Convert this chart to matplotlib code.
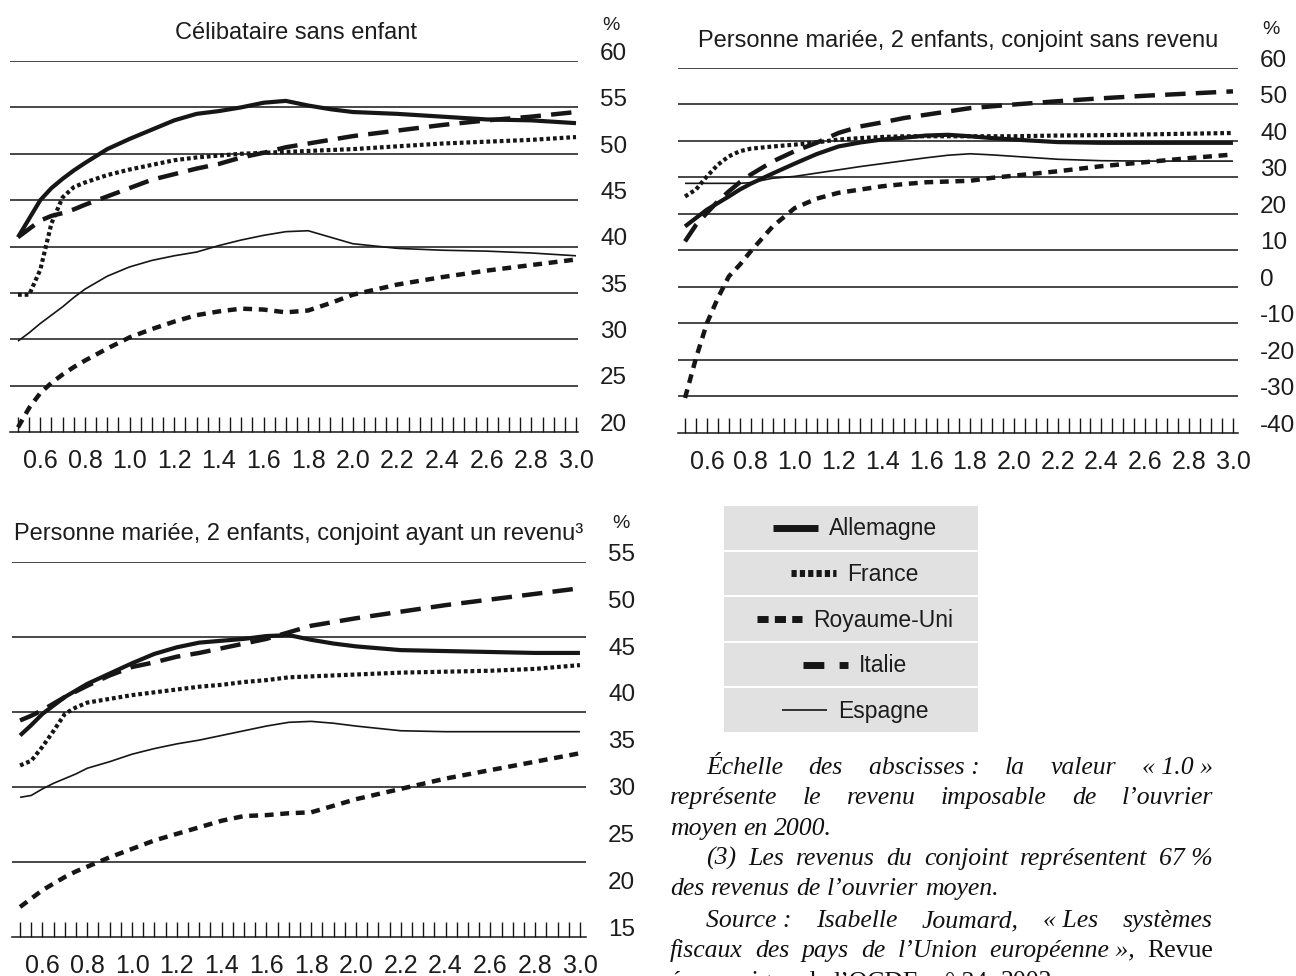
import matplotlib
matplotlib.use("Agg")
import matplotlib.pyplot as plt
import matplotlib.transforms as mtransforms
from matplotlib.patches import Rectangle
import numpy as np

W, H = 1296, 976
plt.rcParams['font.family'] = ['Liberation Sans', 'DejaVu Sans']

# --- data ---
x = [0.50, 0.55, 0.60, 0.65, 0.70, 0.75, 0.80, 0.90, 1.00, 1.10, 1.20, 1.30,
     1.40, 1.50, 1.60, 1.70, 1.80, 1.90, 2.00, 2.20, 2.40, 2.60, 2.80, 3.00]

# Célibataire sans enfant
tl_allemagne = [41.0, 43.0, 45.0, 46.3, 47.3, 48.2, 49.0, 50.5, 51.6, 52.6, 53.6, 54.3,
                54.6, 55.0, 55.5, 55.7, 55.2, 54.8, 54.5, 54.3, 54.0, 53.7, 53.6, 53.3]
tl_france = [34.8, 34.8, 37.5, 42.5, 45.3, 46.4, 46.9, 47.7, 48.3, 48.8, 49.3, 49.6,
             49.8, 50.0, 50.1, 50.2, 50.3, 50.4, 50.5, 50.8, 51.1, 51.3, 51.5, 51.8]
tl_ru = [20.5, 22.6, 24.2, 25.3, 26.2, 27.0, 27.7, 29.0, 30.2, 31.1, 31.9, 32.6,
         33.0, 33.3, 33.2, 32.9, 33.1, 33.9, 34.8, 35.9, 36.7, 37.4, 38.0, 38.6]
tl_italie = [41.0, 41.9, 42.8, 43.3, 43.6, 44.0, 44.5, 45.4, 46.3, 47.2, 47.8, 48.4,
             48.9, 49.6, 50.1, 50.7, 51.1, 51.5, 51.9, 52.5, 53.1, 53.6, 54.0, 54.5]
tl_espagne = [29.8, 30.7, 31.7, 32.6, 33.5, 34.5, 35.4, 36.8, 37.8, 38.5, 39.0, 39.4,
              40.1, 40.7, 41.2, 41.6, 41.7, 41.0, 40.3, 39.8, 39.6, 39.5, 39.3, 39.0]

# Personne mariée, 2 enfants, conjoint sans revenu
tr_allemagne = [16.6, 18.9, 21.2, 23.0, 24.8, 26.7, 28.3, 31.1, 33.8, 36.4, 38.5, 39.6,
                40.4, 40.9, 41.5, 41.7, 41.3, 40.8, 40.4, 39.7, 39.5, 39.5, 39.5, 39.5]
tr_france = [24.8, 26.7, 30.3, 33.5, 35.8, 37.2, 37.9, 38.5, 39.0, 39.6, 40.4, 40.8,
             41.1, 41.3, 41.3, 41.3, 41.3, 41.3, 41.3, 41.5, 41.6, 41.8, 42.0, 42.2]
tr_ru = [-30.4, -19.5, -9.9, -3.0, 2.9, 6.1, 9.8, 16.6, 21.6, 24.2, 25.8, 26.7,
         27.6, 28.2, 28.7, 28.9, 29.1, 29.9, 30.5, 31.7, 33.1, 34.2, 35.3, 36.3]
tr_italie = [12.5, 17.0, 20.3, 23.5, 26.2, 28.7, 30.8, 34.4, 37.2, 39.5, 42.2, 44.0,
             45.1, 46.3, 47.2, 48.1, 49.0, 49.5, 50.0, 50.9, 51.7, 52.4, 53.0, 53.6]
tr_espagne = [28.4, 28.4, 28.4, 28.4, 28.4, 28.4, 28.6, 29.8, 30.3, 31.2, 32.1, 33.0,
              33.8, 34.6, 35.4, 36.1, 36.5, 36.2, 35.8, 35.0, 34.6, 34.5, 34.5, 34.5]

# Personne mariée, 2 enfants, conjoint ayant un revenu
bl_allemagne = [36.5, 37.6, 38.8, 39.7, 40.6, 41.3, 42.0, 43.1, 44.2, 45.2, 45.9, 46.4,
                46.6, 46.8, 47.1, 47.2, 46.7, 46.3, 46.0, 45.6, 45.5, 45.4, 45.3, 45.3]
bl_france = [33.3, 33.8, 35.3, 37.0, 38.8, 39.5, 40.0, 40.4, 40.8, 41.1, 41.4, 41.7,
             41.9, 42.2, 42.4, 42.7, 42.8, 42.9, 43.0, 43.2, 43.3, 43.4, 43.6, 44.0]
bl_ru = [18.2, 19.1, 20.0, 20.7, 21.4, 22.0, 22.5, 23.5, 24.4, 25.3, 26.0, 26.7,
         27.4, 27.9, 28.0, 28.2, 28.3, 29.0, 29.7, 30.8, 31.9, 32.8, 33.7, 34.6]
bl_italie = [38.1, 38.6, 39.2, 39.9, 40.6, 41.2, 41.8, 42.9, 43.8, 44.3, 44.9, 45.3,
             45.8, 46.3, 46.8, 47.5, 48.2, 48.6, 49.0, 49.7, 50.4, 51.0, 51.6, 52.2]
bl_espagne = [29.9, 30.1, 30.8, 31.4, 31.9, 32.4, 33.0, 33.7, 34.5, 35.1, 35.6, 36.0,
              36.5, 37.0, 37.5, 37.9, 38.0, 37.8, 37.5, 37.0, 36.9, 36.9, 36.9, 36.9]

countries = ['Allemagne', 'France', 'Royaume-Uni', 'Italie', 'Espagne']

tl_title = 'Célibataire sans enfant'
tr_title = 'Personne mariée, 2 enfants, conjoint sans revenu'
bl_title = 'Personne mariée, 2 enfants, conjoint ayant un revenu³'

tl_yticks = [20, 25, 30, 35, 40, 45, 50, 55, 60]
tl_grid = [25, 30, 35, 40, 45, 50, 55, 60]
tr_yticks = [-40, -30, -20, -10, 0, 10, 20, 30, 40, 50, 60]
tr_grid = [-30, -20, -10, 0, 10, 20, 30, 40, 50, 60]
bl_yticks = [15, 20, 25, 30, 35, 40, 45, 50, 55]
bl_grid = [23, 31, 39, 47, 55]

xticks_all = np.round(np.arange(0.5, 3.0001, 0.05), 2)
xlabels = ['0.6', '0.8', '1.0', '1.2', '1.4', '1.6', '1.8', '2.0', '2.2', '2.4', '2.6', '2.8', '3.0']

INK = '#161616'
TXT = '#1c1c1c'
styles = {
    'Allemagne':   dict(lw=3.0, ls='-'),
    'France':      dict(lw=3.0, ls=(0, (0.9, 0.7))),
    'Royaume-Uni': dict(lw=3.2, ls=(0, (2.0, 1.5))),
    'Italie':      dict(lw=3.2, ls=(0, (4.6, 2.3))),
    'Espagne':     dict(lw=1.2, ls='-'),
}

fig = plt.figure(figsize=(W / 100, H / 100), dpi=100)


def px_axes(l, t, r, b):
    return fig.add_axes([l / W, 1 - b / H, (r - l) / W, (b - t) / H])


def panel(ax, xlim, ylim, yticks, grid, series):
    ax.set_xlim(xlim)
    ax.set_ylim(ylim)
    ax.patch.set_alpha(0)
    for g in grid:
        ax.axhline(g, color=INK, lw=1.1, zorder=1)
    for name, vals in zip(countries, series):
        st = styles[name]
        ax.plot(x, vals, color=INK, lw=st['lw'], ls=st['ls'], dash_capstyle='butt',
                solid_capstyle='butt', zorder=3, clip_on=False)
    ax.set_xticks(xticks_all)
    ax.set_xticklabels([f'{v:.1f}' if (f'{v:.1f}' in xlabels and abs(v * 10 - round(v * 10)) < 1e-6) else ''
                        for v in xticks_all])
    ax.xaxis.set_ticks_position('bottom')
    ax.tick_params(axis='x', direction='in', length=10.5, width=1.0, color=INK,
                   pad=12.5, labelsize=18, labelcolor=TXT)
    ax.yaxis.tick_right()
    ax.set_yticks(yticks)
    ax.set_yticklabels([str(v) for v in yticks])
    ax.tick_params(axis='y', length=0, pad=16, labelsize=17.5, labelcolor=TXT)
    off = mtransforms.ScaledTranslation(0, 7 / 72, fig.dpi_scale_trans)
    for lab in ax.get_yticklabels():
        lab.set_transform(lab.get_transform() + off)
    for s in ['top', 'left', 'right']:
        ax.spines[s].set_visible(False)
    ax.spines['bottom'].set_linewidth(1.1)
    ax.spines['bottom'].set_color(INK)


ax1 = px_axes(10, 61, 578, 432)
panel(ax1, (0.4642, 3.009), (20, 60), tl_yticks, tl_grid,
      [tl_allemagne, tl_france, tl_ru, tl_italie, tl_espagne])

ax2 = px_axes(678, 68, 1238, 433)
panel(ax2, (0.468, 3.023), (-40, 60), tr_yticks, tr_grid,
      [tr_allemagne, tr_france, tr_ru, tr_italie, tr_espagne])

ax3 = px_axes(12, 562, 586, 937)
panel(ax3, (0.464, 3.027), (15, 55), bl_yticks, bl_grid,
      [bl_allemagne, bl_france, bl_ru, bl_italie, bl_espagne])

# titles and % signs
fig.text(296 / W, 1 - 33 / H, tl_title, ha='center', va='center', fontsize=17, color=TXT)
fig.text(958 / W, 1 - 41 / H, tr_title, ha='center', va='center', fontsize=17, color=TXT)
fig.text(14 / W, 1 - 534 / H, bl_title, ha='left', va='center', fontsize=17, color=TXT)
for px, py in [(611, 25), (1271, 29), (621, 523)]:
    fig.text(px / W, 1 - py / H, '%', ha='center', va='center', fontsize=14, color=TXT)

# legend box
lx0, ly0, lx1, ly1 = 724, 505, 978, 733
lax = px_axes(lx0, ly0, lx1, ly1)
lax.set_xlim(0, lx1 - lx0)
lax.set_ylim(ly1 - ly0, 0)
lax.axis('off')
row_h = (ly1 - ly0) / len(countries)
leg_dash = {
    'Allemagne': '-',
    'France': (0, (0.75, 0.45)),
    'Royaume-Uni': (0, (1.6, 0.9)),
    'Italie': (0, (3.0, 2.2, 1.9, 2.2)),
    'Espagne': '-',
}
leg_lw = {'Allemagne': 5.0, 'France': 5.0, 'Royaume-Uni': 5.0, 'Italie': 5.0, 'Espagne': 1.2}
renderer = fig.canvas.get_renderer()
for i, name in enumerate(countries):
    lax.add_patch(Rectangle((0, i * row_h + 1), lx1 - lx0, row_h - 2, color='#e1e1e1', lw=0))
    yc = i * row_h + row_h / 2
    t = lax.text(0, yc + 1, name, ha='left', va='center', fontsize=16.5, color=TXT)
    tw = t.get_window_extent(renderer).width
    seg = 45
    gap = 11
    start = (lx1 - lx0) / 2 + 4 - (seg + gap + tw) / 2
    lax.plot([start, start + seg], [yc, yc], color=INK, lw=leg_lw[name], ls=leg_dash[name],
             dash_capstyle='butt', solid_capstyle='butt')
    t.set_x(start + seg + gap)

# caption (justified, Times-like italic)
cap_lines = [
    (706, 774, True, [('Échelle', 'italic'), ('des', 'italic'), ('abscisses :', 'italic'), ('la', 'italic'),
                      ('valeur', 'italic'), ('« 1.0 »', 'italic')]),
    (670, 804, True, [('représente', 'italic'), ('le', 'italic'), ('revenu', 'italic'), ('imposable', 'italic'),
                      ('de', 'italic'), ('l’ouvrier', 'italic')]),
    (670, 835, False, [('moyen', 'italic'), ('en', 'italic'), ('2000.', 'italic')]),
    (706, 865, True, [('(3)', 'italic'), ('Les', 'italic'), ('revenus', 'italic'), ('du', 'italic'),
                      ('conjoint', 'italic'), ('représentent', 'italic'), ('67 %', 'italic')]),
    (670, 895, False, [('des', 'italic'), ('revenus', 'italic'), ('de', 'italic'), ('l’ouvrier', 'italic'),
                       ('moyen.', 'italic')]),
    (706, 927, True, [('Source :', 'italic'), ('Isabelle', 'italic'), ('Joumard,', 'italic'),
                      ('« Les', 'italic'), ('systèmes', 'italic')]),
    (670, 957, True, [('fiscaux', 'italic'), ('des', 'italic'), ('pays', 'italic'), ('de', 'italic'),
                      ('l’Union', 'italic'), ('européenne »,', 'italic'), ('Revue', 'normal')]),
    (670, 988, False, [('économique', 'normal'), ('de', 'normal'), ('l’OCDE,', 'normal'), ('n° 34,', 'normal'),
                       ('2002.', 'normal')]),
]
x_right = 1213
for x0, yb, just, words in cap_lines:
    texts = [fig.text(0, 0, w, fontstyle=st, family=['Liberation Serif', 'DejaVu Serif'],
                      fontsize=18.5, color='#111111', ha='left', va='baseline') for w, st in words]
    widths = [t.get_window_extent(renderer).width for t in texts]
    if just and len(texts) > 1:
        gap = (x_right - x0 - sum(widths)) / (len(texts) - 1)
    else:
        gap = 6.5
    pos = x0
    for t, w in zip(texts, widths):
        t.set_position((pos / W, 1 - yb / H))
        pos += w + gap

fig.savefig('out.png', dpi=100)
